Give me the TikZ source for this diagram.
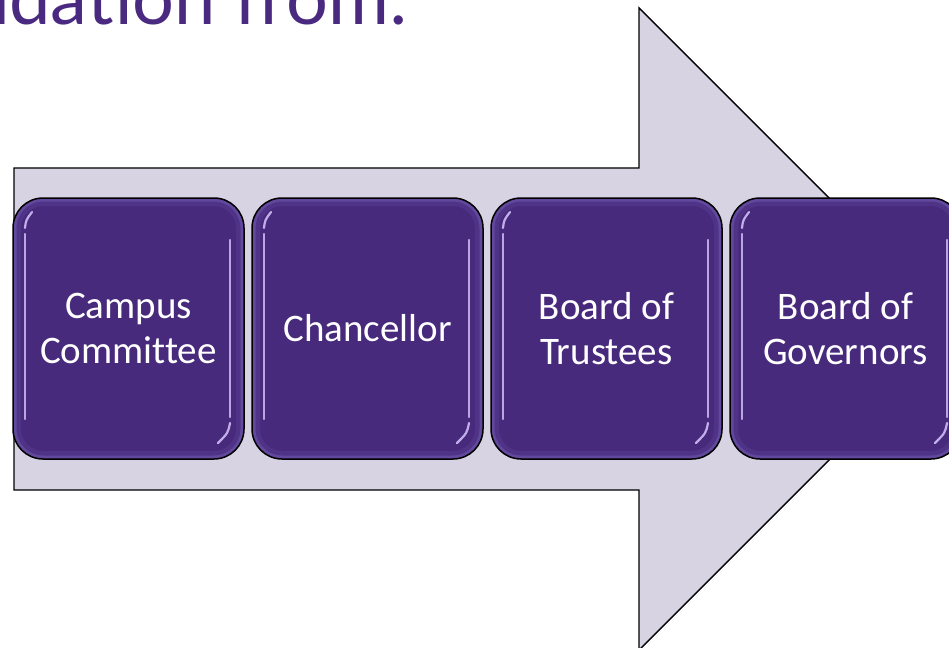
\documentclass[tikz,border=0pt]{standalone}
\usepackage{fontspec}
\setmainfont{Carlito}[Ligatures={NoCommon}]
\newfontfamily\titlefont{Lato}
\usetikzlibrary{calc}
\definecolor{boxpurple}{HTML}{482A7D}
\definecolor{edgepurple}{HTML}{6A52A6}
\definecolor{midpurple}{HTML}{553A8E}
\definecolor{glint}{HTML}{CDBDF5}
\definecolor{arrowfill}{HTML}{D7D3E3}
\definecolor{titlepurple}{HTML}{4A2A80}
\tikzset{
  arrowshape/.style={draw=black, line width=1.4pt, fill=arrowfill, line join=miter},
  stepbox/.style={rounded corners=30pt, draw=black, line width=1.5pt, fill=boxpurple,
    minimum width=231pt, minimum height=261pt, inner sep=0pt, text=white, align=center,
    font=\fontsize{39}{45}\selectfont,
    path picture={
      \draw[midpurple, line width=16pt, rounded corners=30pt, opacity=0.6]
        (path picture bounding box.south west) rectangle (path picture bounding box.north east);
      \draw[edgepurple, line width=7pt, rounded corners=30pt, opacity=0.7]
        (path picture bounding box.south west) rectangle (path picture bounding box.north east);
      \draw[glint, line width=2.2pt, line cap=round, opacity=0.85]
        ($(path picture bounding box.north west)+(12,36)$) -- ($(path picture bounding box.south west)+(12,-40)$);
      \draw[glint, line width=2.2pt, line cap=round, opacity=0.9]
        ($(path picture bounding box.north west)+(12,30)$) .. controls ($(path picture bounding box.north west)+(13,22)$) .. ($(path picture bounding box.north west)+(19,14)$);
      \draw[glint, line width=2.2pt, line cap=round, opacity=0.85]
        ($(path picture bounding box.north east)+(-14,42)$) -- ($(path picture bounding box.south east)+(-14,-42)$);
      \draw[glint, line width=2.2pt, line cap=round, opacity=0.9]
        ($(path picture bounding box.south east)+(-14,-36)$) .. controls ($(path picture bounding box.south east)+(-16,-26)$) .. ($(path picture bounding box.south east)+(-26,-16)$);
    }},
  titletext/.style={anchor=base west, inner sep=0pt, text=titlepurple,
    font=\titlefont\fontsize{74}{74}\selectfont}
}
\begin{document}
\begin{tikzpicture}[x=1pt,y=-1pt]
\useasboundingbox (0,0) rectangle (949,647);
\clip (0,0) rectangle (949,647);
\fill[white] (0,0) rectangle (949,647);
\node[titletext] (title) at (-32,25) {ndation from:};
\draw[arrowshape] (14,168) -- (639,168) -- (639,8) -- (960,329) -- (639,650) -- (639,490) -- (14,490) -- cycle;
\node[stepbox] (b1) at (128.5,328.5) {Campus\\Committee};
\node[stepbox] (b2) at (367.5,328.5) {Chancellor};
\node[stepbox] (b3) at (606.5,328.5) {Board of\\Trustees};
\node[stepbox] (b4) at (845.5,328.5) {Board of\\Governors};
\end{tikzpicture}
\end{document}
